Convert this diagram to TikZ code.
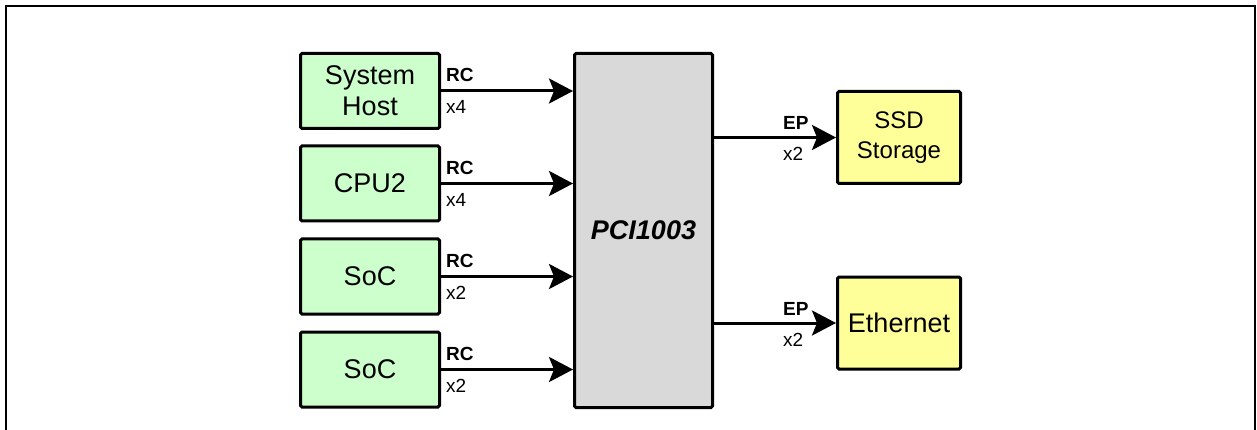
\documentclass[tikz,border=0pt]{standalone}
\usepackage{fontspec}
\setmainfont{Liberation Sans}
\usetikzlibrary{arrows.meta}
\definecolor{boxgreen}{HTML}{CCFFCC}
\definecolor{boxyellow}{HTML}{FFFF99}
\definecolor{boxgray}{HTML}{D9D9D9}
\tikzset{
  hostbox/.style={draw, line width=3pt, rounded corners=1.5pt, fill=boxgreen, minimum width=139pt, minimum height=75pt, inner sep=0pt, align=center, font=\fontsize{27}{31}\selectfont},
  devbox/.style={draw, line width=3pt, rounded corners=1.5pt, fill=boxyellow, minimum width=123pt, minimum height=92pt, inner sep=0pt, align=center},
  chipbox/.style={draw, line width=3pt, rounded corners=1.5pt, fill=boxgray, minimum width=138pt, minimum height=354pt, inner sep=0pt, font=\fontsize{27}{31}\selectfont\bfseries\itshape},
  link/.style={line width=3pt, -{Stealth[length=24pt,width=25pt,inset=5pt]}},
  lbl/.style={inner sep=0pt, anchor=base west, font=\fontsize{19}{22}\selectfont},
  frame/.style={line width=2pt}
}
\begin{document}
\begin{tikzpicture}[x=1pt,y=-1pt]
\useasboundingbox (0,0) rectangle (1257,430);
\coordinate (f1) at (6,440);
\coordinate (f2) at (6,6);
\coordinate (f3) at (1255,6);
\coordinate (f4) at (1255,440);
\draw[frame] (f1) -- (f2) -- (f3) -- (f4);

\node[hostbox] (sh) at (370,91) {System\\Host};
\node[hostbox] (cpu) at (370,183.5) {CPU2};
\node[hostbox] (soc1) at (370,276.5) {SoC};
\node[hostbox] (soc2) at (370,369.5) {SoC};

\node[chipbox] (pci) at (643.5,230.5) {PCI1003};

\node[devbox, font=\fontsize{24}{30}\selectfont] (ssd) at (899,137.5) {SSD\\Storage};
\node[devbox, font=\fontsize{27}{31}\selectfont] (eth) at (899,323) {Ethernet};

\foreach \n/\w in {sh/x4,cpu/x4,soc1/x2,soc2/x2}{
  \draw[link] (\n.east) -- (pci.west |- \n.east);
  \node[lbl, font=\fontsize{19}{22}\selectfont\bfseries] (rc\n) at ([xshift=5pt,yshift=9pt]\n.east) {RC};
  \node[lbl] (w\n) at ([xshift=5pt,yshift=-23pt]\n.east) {\w};
}

\draw[link] (pci.east |- ssd.west) -- (ssd.west);
\draw[link] (pci.east |- eth.west) -- (eth.west);
\node[lbl, font=\fontsize{19}{22}\selectfont\bfseries] (ep1) at (783,130) {EP};
\node[lbl] (x21) at (783,161) {x2};
\node[lbl, font=\fontsize{19}{22}\selectfont\bfseries] (ep2) at (783,315) {EP};
\node[lbl] (x22) at (783,346) {x2};
\end{tikzpicture}
\end{document}
